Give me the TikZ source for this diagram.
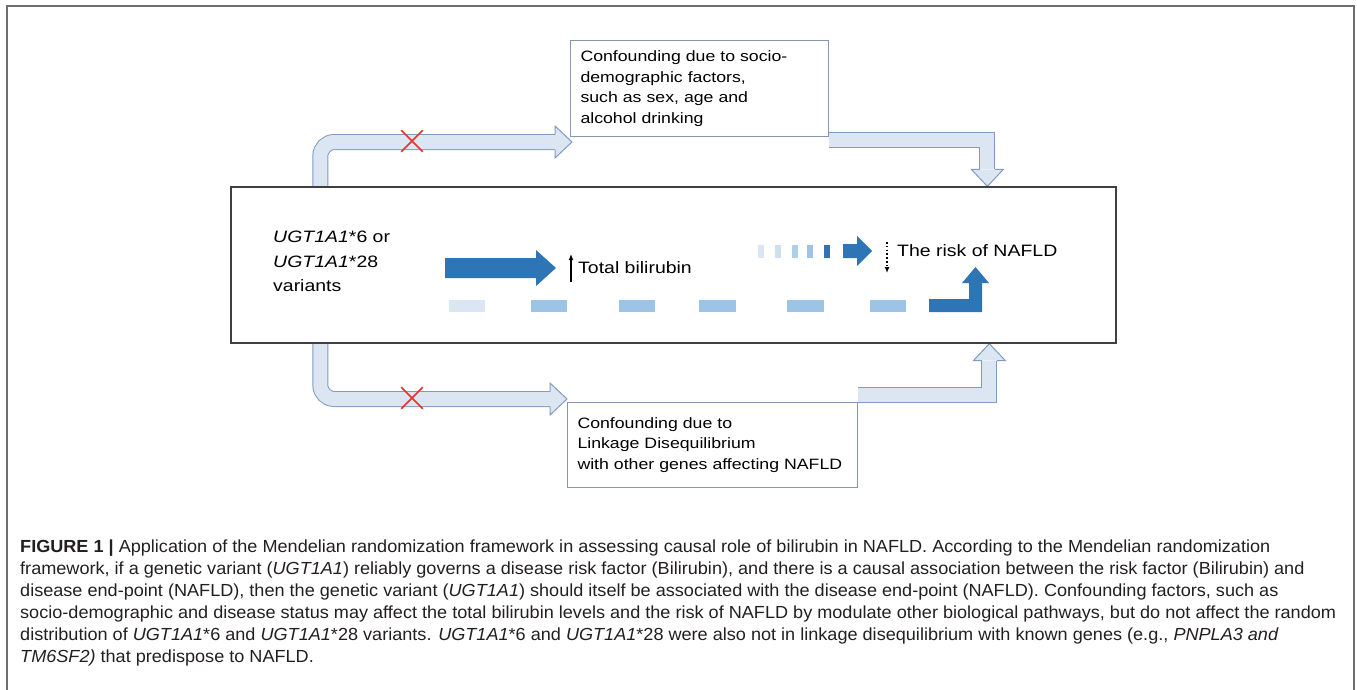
\documentclass[tikz,border=0pt]{standalone}
\usepackage{fontspec}
\setmainfont{Liberation Sans}
\newfontfamily\dfont[FakeStretch=1.18]{Liberation Sans}
\newfontfamily\capfont[FakeStretch=1.034]{Liberation Sans}
\usetikzlibrary{arrows.meta,calc,shapes.misc,backgrounds}

\definecolor{hollowfill}{HTML}{DCE6F2}
\definecolor{hollowline}{HTML}{7F9CC0}
\definecolor{darkblue}{HTML}{2E75B6}
\definecolor{midblue}{HTML}{9DC3E6}
\definecolor{paleblue}{HTML}{DAE6F2}
\definecolor{boxline}{HTML}{8497B0}
\definecolor{frameline}{HTML}{6F6F6F}
\definecolor{crossred}{HTML}{E8312A}
\definecolor{captext}{HTML}{231F20}

% arrowhead of a hollow block arrow, tip at #1, turned by #2
\newcommand{\hollowhead}[2]{%
  \begin{scope}[shift={(#1)},rotate=#2]
    \filldraw[headline] (-17,7.5) -- (-17,16) -- (0,0) -- (-17,-16) -- (-17,-7.5);
  \end{scope}}

\begin{document}
\begin{tikzpicture}[x=1pt,y=1pt,
  mainbox/.style={draw=black!75,line width=1.3pt,minimum width=885pt,minimum height=156pt,inner sep=0pt},
  confbox/.style={draw=boxline,line width=1pt,anchor=north west,align=left,inner xsep=10pt,inner ysep=4pt,font=\dfont\fontsize{15}{20.5}\selectfont},
  maintext/.style={inner sep=0pt,align=left,font=\dfont\fontsize{16.5}{24.5}\selectfont},
  shaftedge/.style={draw=hollowline,line width=16pt},
  shaftcore/.style={draw=hollowfill,line width=14pt},
  headline/.style={draw=hollowline,fill=hollowfill,line width=1pt,line join=miter},
  stopmark/.style={draw=crossred,cross out,line width=1.6pt,minimum size=20pt,inner sep=0pt},
  thinarrow/.style={-{Latex[length=6pt,width=5pt]},line width=1.4pt},
  dotarrow/.style={-{Latex[length=6pt,width=5pt]},line width=1.4pt,dash pattern=on 1.6pt off 2.2pt},
  figcaption/.style={inner sep=0pt,align=left,anchor=north west,text=captext,font=\capfont\fontsize{17.5}{21.9}\selectfont}]
\useasboundingbox (0,0) rectangle (1357,-689);
\draw[frameline,line width=1.5pt] (7,-700) -- (7,-6) -- (1354,-6) -- (1354,-700);

% boxes
\node[mainbox] (main) at (673.5,-265) {};
\node[confbox,minimum width=258pt,minimum height=96pt,text width=238pt] (social) at (570,-40) {Confounding due to socio-\\demographic factors,\\such as sex, age and\\alcohol drinking};
\node[confbox,minimum width=290pt,minimum height=85pt,text width=270pt] (linkage) at (567,-402) {Confounding due to\\Linkage Disequilibrium\\with other genes affecting NAFLD};

% texts in the main box
\node[maintext,anchor=north west] (variant) at (273,-231) {\textit{UGT1A1}*6 or\\\textit{UGT1A1}*28\\variants};
\node[maintext,anchor=west] (bili) at (578,-268) {Total bilirubin};
\node[maintext,anchor=west] (risk) at (897,-251) {The risk of NAFLD};
\draw[thinarrow] ($(bili.west)+(-7,-14)$) -- ($(bili.west)+(-7,14)$);
\draw[dotarrow] ($(risk.west)+(-10,9)$) -- ($(risk.west)+(-10,-22)$);

% hollow arrows round the main box
\coordinate (up1) at ($(main.north west)+(90,0)$);
\coordinate (tipA) at ($(social.south west)+(2,-5)$);
\coordinate (startB) at ($(social.south east)+(0,-2.5)$);
\coordinate (tipB) at ($(main.north west)+(757,0)$);
\coordinate (down1) at ($(main.south west)+(90,0)$);
\coordinate (tipC) at ($(linkage.north west)+(0,3)$);
\coordinate (startD) at ($(linkage.north east)+(0,7)$);
\coordinate (tipD) at ($(main.south west)+(759,0)$);
\begin{scope}[on background layer]
\draw[shaftedge,rounded corners=14pt] (up1) |- ($(tipA)+(-17,0)$);
\draw[shaftcore,rounded corners=14pt] (up1) |- ($(tipA)+(-17,0)$);
\hollowhead{tipA}{0}
\draw[shaftedge] (startB) -| ($(tipB)+(0,17)$);
\draw[shaftcore] (startB) -| ($(tipB)+(0,17)$);
\hollowhead{tipB}{-90}
\draw[shaftedge,rounded corners=14pt] (down1) |- ($(tipC)+(-17,0)$);
\draw[shaftcore,rounded corners=14pt] (down1) |- ($(tipC)+(-17,0)$);
\hollowhead{tipC}{0}
\draw[shaftedge] (startD) -| ($(tipD)+(0,-17)$);
\draw[shaftcore] (startD) -| ($(tipD)+(0,-17)$);
\hollowhead{tipD}{90}
\end{scope}
\node[stopmark] (stop1) at (412,-141) {};
\node[stopmark] (stop2) at (412,-398) {};

% causal arrow to bilirubin
\fill[darkblue] (445,-258) -- (536,-258) -- (536,-250) -- (556,-268) -- (536,-286) -- (536,-278) -- (445,-278) -- cycle;

% weak path to the risk
\fill[paleblue] (758,-245) rectangle (764,-258);
\fill[paleblue!80!midblue] (775,-245) rectangle (781,-258);
\fill[midblue!70!paleblue] (792,-245) rectangle (798,-258);
\fill[midblue] (807,-245) rectangle (813,-258);
\fill[darkblue] (824,-245) rectangle (830,-258);
\fill[darkblue] (843,-244) -- (857,-244) -- (857,-236) -- (872,-251) -- (857,-266) -- (857,-258) -- (843,-258) -- cycle;

% dashed bypass
\fill[paleblue] (449,-300) rectangle (485,-312);
\fill[midblue] (531,-300) rectangle (567,-312);
\fill[midblue] (619,-300) rectangle (655,-312);
\fill[midblue] (699,-300) rectangle (736,-312);
\fill[midblue] (787,-300) rectangle (824,-312);
\fill[midblue] (870,-300) rectangle (906,-312);
\fill[darkblue] (929,-299) -- (969,-299) -- (969,-283) -- (962,-283) -- (975.5,-267) -- (989,-283) -- (982,-283) -- (982,-312) -- (929,-312) -- cycle;

\node[figcaption] (cap) at (20,-540) {\textbf{FIGURE 1 |} Application of the Mendelian randomization framework in assessing causal role of bilirubin in NAFLD. According to the Mendelian randomization\\
framework, if a genetic variant (\textit{UGT1A1}) reliably governs a disease risk factor (Bilirubin), and there is a causal association between the risk factor (Bilirubin) and\\
disease end-point (NAFLD), then the genetic variant (\textit{UGT1A1}) should itself be associated with the disease end-point (NAFLD). Confounding factors, such as\\
socio-demographic and disease status may affect the total bilirubin levels and the risk of NAFLD by modulate other biological pathways, but do not affect the random\\
distribution of \textit{UGT1A1}*6 and \textit{UGT1A1}*28 variants. \textit{UGT1A1}*6 and \textit{UGT1A1}*28 were also not in linkage disequilibrium with known genes (e.g., \textit{PNPLA3 and}\\
\textit{TM6SF2)} that predispose to NAFLD.};
\end{tikzpicture}
\end{document}
